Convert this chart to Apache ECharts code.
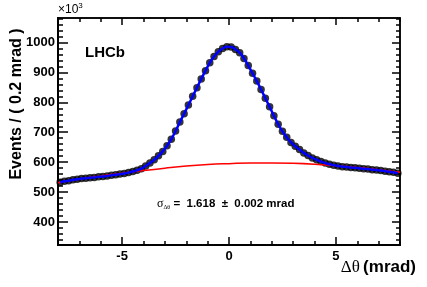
<!DOCTYPE html>
<html><head><meta charset="utf-8">
<script src="https://cdn.jsdelivr.net/npm/echarts@6/dist/echarts.min.js"></script>
<style>html,body{margin:0;padding:0;background:#fff}#c{width:427px;height:287px}</style>
</head><body><div id="c"></div>
<script>
// Histogram: events per 0.2 mrad bin, in units of 10^3
const binLow = -8;
const binWidth = 0.2;
const events = [
  533,536,538,541,543,545,546,548,549,551,
  552,554,556,558,560,562,565,569,573,578,
  587,597,608,621,636,655,677,704,734,762,
  791,820,849,878,906,932,953,969,980,986,
  985,977,966,947,923,897,871,843,814,785,
  755,727,703,683,666,653,642,631,622,614,
  608,602,597,593,590,587,585,584,582,581,
  580,578,577,575,574,572,570,568,566,563
];
// Background component (red curve) read at integer delta-theta
const bgX = [-8,-7,-6,-5,-4,-3,-2,-1,0,1,2,3,4,5,6,7,8];
const bgY = [531,544,554,563,572,580,587,592,595,597,597,596,593,588,582,575,566];
// Axis ticks
const xMajorTicks = [-5,0,5];
const xMinorTicks = [-8,-7,-6,-5,-4,-3,-2,-1,0,1,2,3,4,5,6,7,8];
const yMajorTicks = [400,500,600,700,800,900,1000];
const yMinorTicks = [];
for (let v = 340; v <= 1080; v += 20) yMinorTicks.push(v);

const X_MIN = -8, X_MAX = 8, Y_MIN = 323, Y_MAX = 1082;

const pts = events.map((v, i) => [binLow + binWidth * (i + 0.5), v]);
const bg = bgX.map((x, i) => [x, bgY[i]]);

const FONT = 'Liberation Sans, Arial, Helvetica, sans-serif';
const SERIF = 'Liberation Serif, DejaVu Serif, serif';
const labelStyle = {color:'#000', fontFamily: FONT, fontWeight:'bold', fontSize:13, formatter: v => String(v)};

function xAx(pos, ticks, len, lw, showLabel) {
  return {
    type:'value', position: pos, min: X_MIN, max: X_MAX,
    axisLine:{show:true, onZero:false, lineStyle:{color:'#000', width: lw}},
    axisTick:{show:true, inside:true, length: len, customValues: ticks, lineStyle:{color:'#000', width:1.5}},
    axisLabel: showLabel ? Object.assign({show:true, margin:5, customValues: ticks}, labelStyle) : {show:false},
    splitLine:{show:false}
  };
}
function yAx(pos, ticks, len, lw, showLabel) {
  return {
    type:'value', position: pos, min: Y_MIN, max: Y_MAX,
    axisLine:{show:true, onZero:false, lineStyle:{color:'#000', width: lw}},
    axisTick:{show:true, inside:true, length: len, customValues: ticks, lineStyle:{color:'#000', width:1.5}},
    axisLabel: showLabel ? Object.assign({show:true, margin:3, customValues: ticks}, labelStyle) : {show:false},
    splitLine:{show:false}
  };
}

const chart = echarts.init(document.getElementById('c'), null, {renderer:'canvas'});
chart.setOption({
  animation:false,
  backgroundColor:'#fff',
  grid:{left:58, right:27, top:18, bottom:42, containLabel:false},
  xAxis:[
    xAx('bottom', xMajorTicks, 8, 2, true),
    xAx('bottom', xMinorTicks, 4, 2, false),
    xAx('top', xMajorTicks, 7, 1.5, false),
    xAx('top', xMinorTicks, 4, 1.5, false)
  ],
  yAxis:[
    yAx('left', yMajorTicks, 10, 2, true),
    yAx('left', yMinorTicks, 5, 2, false),
    yAx('right', yMajorTicks, 8, 1.5, false),
    yAx('right', yMinorTicks, 4, 1.5, false)
  ],
  series:[
    {type:'scatter', data: pts, symbol:'circle', symbolSize:7.5, itemStyle:{color:'#000'}, z:2},
    {type:'line', data: bg, smooth:true, showSymbol:false, symbol:'none', lineStyle:{color:'#ff0000', width:1.5}, z:3},
    {type:'line', data: pts, smooth:true, showSymbol:false, symbol:'none', lineStyle:{color:'#0000ff', width:2.5}, z:4}
  ],
  graphic:[
    {type:'text', left:85, top:45, style:{text:'LHCb', font:'bold 15px ' + FONT, fill:'#000'}},
    {type:'text', left:58, top:2, style:{
      text:'{a|×10}{s|3}', rich:{a:{fontFamily:FONT, fontSize:12, fill:'#000', verticalAlign:'bottom'}, s:{fontFamily:FONT, fontSize:8, fill:'#000', verticalAlign:'top', padding:[0,0,6,0]}}}},
    {type:'text', right:11, top:259, style:{
      text:'{g|Δθ} {b|(mrad)}', rich:{g:{fontFamily:SERIF, fontSize:17, fill:'#000'}, b:{fontFamily:FONT, fontWeight:'bold', fontSize:17, fill:'#000'}}}},
    {type:'text', x:17, y:104, rotation:Math.PI/2, style:{
      text:'Events / ( 0.2 mrad )', font:'bold 16px ' + FONT, fill:'#000', align:'center', verticalAlign:'middle'}},
    {type:'text', left:157, top:198, style:{
      text:'{s|σ}{sub|Δθ}{t| =  1.618  ±  0.002 mrad}', rich:{
        s:{fontFamily:SERIF, fontSize:12, fill:'#000'},
        sub:{fontFamily:SERIF, fontSize:6, fill:'#000', padding:[6,0,0,0]},
        t:{fontFamily:FONT, fontWeight:'bold', fontSize:11.5, fill:'#000'}}}}
  ]
});
</script></body></html>
